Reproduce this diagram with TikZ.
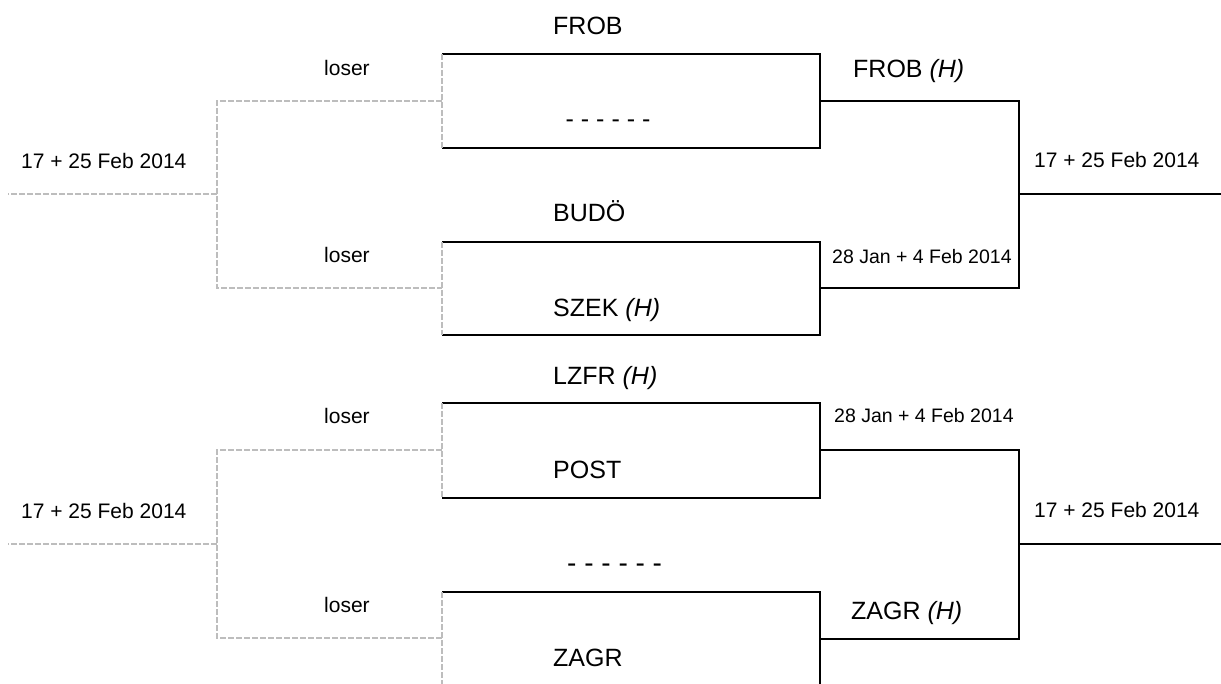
\documentclass[tikz,border=0pt]{standalone}
\usepackage{fontspec}
\setmainfont{Liberation Sans}
\definecolor{losergray}{HTML}{BDBDBD}
\tikzset{
  win/.style={draw=black, line width=1.8pt},
  lose/.style={draw=losergray, line width=1.2pt, dash pattern=on 6pt off 2pt},
  team/.style={anchor=base west, inner sep=0pt, font=\fontsize{25}{30}\selectfont},
  datelbl/.style={anchor=base west, inner sep=0pt, font=\fontsize{21}{25}\selectfont},
  smalldate/.style={anchor=base west, inner sep=0pt, font=\fontsize{19.5}{23}\selectfont},
}
\begin{document}
\begin{tikzpicture}[x=1pt,y=-1pt]
\useasboundingbox (0,0) rectangle (1221,684);
% ---- first-round boxes (corner coordinates)
\foreach \n/\t/\b in {A/54/148, B/242/335, C/403/498, D/592/690}{
  \coordinate (\n tl) at (442,\t);
  \coordinate (\n tr) at (820,\t);
  \coordinate (\n bl) at (442,\b);
  \coordinate (\n br) at (820,\b);
}
\coordinate (Am) at (820,101);  \coordinate (Bm) at (820,288);
\coordinate (Cm) at (820,450);  \coordinate (Dm) at (820,639);
\coordinate (Aml) at (442,101); \coordinate (Bml) at (442,288);
\coordinate (Cml) at (442,450); \coordinate (Dml) at (442,638);
% winner brackets (right)
\coordinate (W1a) at (1019,101); \coordinate (W1b) at (1019,288);
\coordinate (W1o) at (1019,194); \coordinate (W1e) at (1221,194);
\coordinate (W2a) at (1019,450); \coordinate (W2b) at (1019,639);
\coordinate (W2o) at (1019,544); \coordinate (W2e) at (1221,544);
% loser brackets (left)
\coordinate (L1a) at (217,101); \coordinate (L1b) at (217,288);
\coordinate (L1o) at (217,194); \coordinate (L1e) at (8,194);
\coordinate (L2a) at (217,450); \coordinate (L2b) at (217,638);
\coordinate (L2o) at (217,544); \coordinate (L2e) at (8,544);

% boxes
\foreach \n in {A,B,C,D}{
  \draw[win] (\n tl) -- (\n tr) -- (\n br) -- (\n bl);
  \draw[lose] (\n tl) -- (\n bl);
}
% right brackets
\draw[win] (Am) -- (W1a) -- (W1b) -- (Bm);
\draw[win] (W1o) -- (W1e);
\draw[win] (Cm) -- (W2a) -- (W2b) -- (Dm);
\draw[win] (W2o) -- (W2e);
% left brackets
\draw[lose] (Aml) -- (L1a) -- (L1b) -- (Bml);
\draw[lose] (L1o) -- (L1e);
\draw[lose] (Cml) -- (L2a) -- (L2b) -- (Dml);
\draw[lose] (L2o) -- (L2e);

% team names
\node[team] (t1) at (553,35) {FROB};
\node[team] (t2) at (565.5,127.5) {- - - - - -};
\node[team] (t3) at (553,222) {BUDÖ};
\node[team] (t4) at (553,317) {SZEK \textit{(H)}};
\node[team] (t5) at (553,385) {LZFR \textit{(H)}};
\node[team] (t6) at (553,478) {POST};
\node[team, font=\fontsize{28}{32}\selectfont] (t7) at (567,572.5) {- - - - - -};
\node[team] (t8) at (553,666) {ZAGR};
\node[team] (w1) at (853,78) {FROB \textit{(H)}};
\node[team] (w2) at (851,619) {ZAGR \textit{(H)}};
% loser labels
\node[datelbl] (l1) at (324,76) {loser};
\node[datelbl] (l2) at (324,263) {loser};
\node[datelbl] (l3) at (324,424) {loser};
\node[datelbl] (l4) at (324,612) {loser};
% dates
\node[datelbl] (d1) at (21,169) {17 + 25 Feb 2014};
\node[datelbl] (d2) at (21,518) {17 + 25 Feb 2014};
\node[datelbl] (d3) at (1034,168) {17 + 25 Feb 2014};
\node[datelbl] (d4) at (1034,517) {17 + 25 Feb 2014};
\node[smalldate] (d5) at (832,264) {28 Jan + 4 Feb 2014};
\node[smalldate] (d6) at (834,423) {28 Jan + 4 Feb 2014};
\end{tikzpicture}
\end{document}
